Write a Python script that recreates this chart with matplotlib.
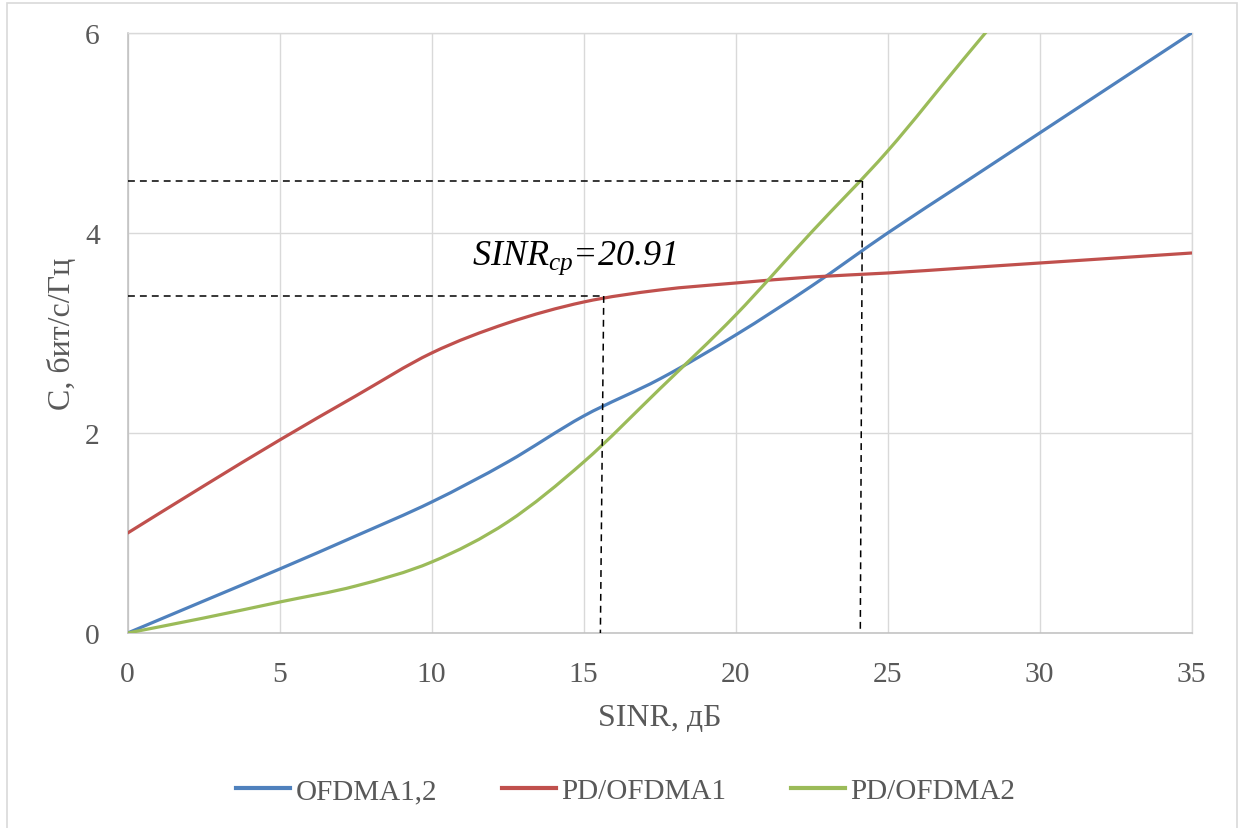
import matplotlib
matplotlib.use("Agg")
import matplotlib.pyplot as plt
from matplotlib.path import Path
from matplotlib.patches import PathPatch, Rectangle
from matplotlib.lines import Line2D

# ---- data -----------------------------------------------------------------
sinr_db = [0, 2.5, 5, 7.5, 10, 12.5, 15, 17.5, 20, 22.5, 25, 27.5, 30, 32.5, 35]
ofdma_12 = [0.0, 0.32, 0.64, 0.97, 1.31, 1.71, 2.17, 2.54, 2.98, 3.47, 4.0, 4.5, 5.0, 5.5, 6.0]
pd_ofdma1 = [1.0, 1.47, 1.93, 2.37, 2.8, 3.1, 3.31, 3.43, 3.5, 3.56, 3.6, 3.65, 3.7, 3.75, 3.8]
sinr_db_pd2 = [0, 2.5, 5, 7.5, 10, 12.5, 15, 17.5, 20, 22.5, 25, 27.5, 30]
pd_ofdma2 = [0.0, 0.15, 0.31, 0.47, 0.71, 1.11, 1.71, 2.44, 3.18, 4.01, 4.82, 5.74, 6.65]

series_names = ["OFDMA1,2", "PD/OFDMA1", "PD/OFDMA2"]
series_colors = ["#4F81BD", "#C0504D", "#9BBB59"]

# guide lines: (x top, x bottom, y level)
guide_x_top = [15.66, 24.17]
guide_x_bottom = [15.55, 24.1]
guide_y = [3.37, 4.52]

x_ticks = [0, 5, 10, 15, 20, 25, 30, 35]
y_ticks = [0, 2, 4, 6]

annotation = r"$SINR_{cp}$=20.91"

# ---- style ----------------------------------------------------------------
plt.rcParams["font.family"] = ["Liberation Serif", "DejaVu Serif"]
plt.rcParams["mathtext.fontset"] = "custom"
plt.rcParams["mathtext.rm"] = "Liberation Serif"
plt.rcParams["mathtext.it"] = "Liberation Serif:italic"
plt.rcParams["mathtext.bf"] = "Liberation Serif:bold"

text_gray = "#595959"
grid_gray = "#D9D9D9"
axis_gray = "#BFBFBF"


def smooth_path(xs, ys):
    """Bezier path through the points (Catmull-Rom style control points)."""
    pts = list(zip(xs, ys))
    verts = [pts[0]]
    codes = [Path.MOVETO]
    n = len(pts)
    for i in range(n - 1):
        p0 = pts[i - 1] if i > 0 else pts[i]
        p1 = pts[i]
        p2 = pts[i + 1]
        p3 = pts[i + 2] if i + 2 < n else pts[i + 1]
        c1 = (p1[0] + (p2[0] - p0[0]) / 6.0, p1[1] + (p2[1] - p0[1]) / 6.0)
        c2 = (p2[0] - (p3[0] - p1[0]) / 6.0, p2[1] - (p3[1] - p1[1]) / 6.0)
        verts += [c1, c2, p2]
        codes += [Path.CURVE4] * 3
    return Path(verts, codes)


fig = plt.figure(figsize=(12.43, 8.29), dpi=100)
ax = fig.add_axes([0.1027, 0.2352, 0.8560, 0.7238])

ax.set_xlim(0, 35)
ax.set_ylim(0, 6)
ax.set_xticks(x_ticks)
ax.set_yticks(y_ticks)
ax.grid(True, color=grid_gray, linewidth=1.0)
ax.set_axisbelow(True)
ax.tick_params(length=0, pad=20, labelsize=21.3, labelcolor=text_gray)
for side in ("left", "bottom"):
    ax.spines[side].set_color(axis_gray)
    ax.spines[side].set_linewidth(1.1)
for side in ("top", "right"):
    ax.spines[side].set_color(grid_gray)
    ax.spines[side].set_linewidth(1.0)

curves = [(sinr_db, ofdma_12), (sinr_db, pd_ofdma1), (sinr_db_pd2, pd_ofdma2)]
for (xs, ys), color in zip(curves, series_colors):
    patch = PathPatch(smooth_path(xs, ys), facecolor="none", edgecolor=color,
                      linewidth=2.3, capstyle="round", joinstyle="round", zorder=3)
    ax.add_patch(patch)

# dashed guide lines
for xt, xb, yl in zip(guide_x_top, guide_x_bottom, guide_y):
    ax.plot([0, xt], [yl, yl], color="black", linewidth=1.1,
            dashes=(4.5, 3.3), zorder=4, clip_on=False)
    ax.plot([xt, xb], [yl, 0], color="black", linewidth=1.1,
            dashes=(4.5, 3.3), zorder=4, clip_on=False)

ax.text(11.32, 3.69, annotation, fontsize=26, style="italic",
        ha="left", va="baseline", color="black", zorder=5)

ax.set_xlabel("SINR, дБ", fontsize=23, color=text_gray)
ax.set_ylabel("C, бит/с/Гц", fontsize=23, color=text_gray)
ax.xaxis.set_label_coords(0.5, -0.14)
ax.xaxis.label.set_va("center")
ax.yaxis.set_label_coords(-0.0617, 0.5)
ax.yaxis.label.set_va("center")

handles = [Line2D([], [], color=c, linewidth=3.0) for c in series_colors]
leg = fig.legend(handles, series_names, loc="center", bbox_to_anchor=(0.5036, 0.0446),
                 ncol=3, frameon=False, fontsize=21, handlelength=1.85,
                 handletextpad=0.2, columnspacing=2.2)
for t in leg.get_texts():
    t.set_color(text_gray)

# chart-area border
fig.patches.append(Rectangle((7 / 1243, -0.05), 1230 / 1243, 1.05 - 4 / 829,
                             transform=fig.transFigure, fill=False,
                             edgecolor=grid_gray, linewidth=1.2))

fig.savefig("out.png", dpi=100)
